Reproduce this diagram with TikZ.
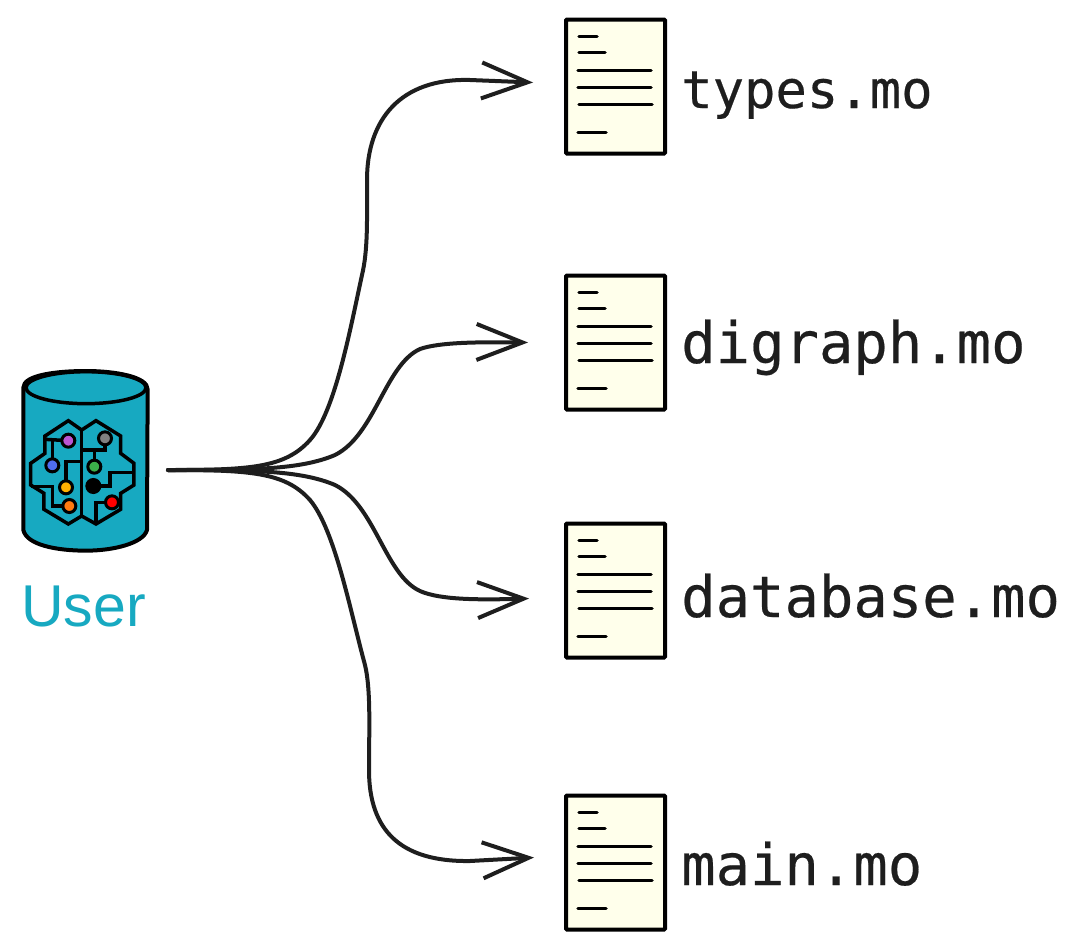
\documentclass[tikz,border=0pt]{standalone}
\usepackage{fontspec}
\setmainfont{Liberation Sans}
\setmonofont[FakeBold=0.35]{DejaVu Sans Mono}
\usetikzlibrary{calc}
\usetikzlibrary{arrows.meta}
\definecolor{userteal}{HTML}{17A9C1}
\definecolor{docfill}{HTML}{FFFFEB}
\definecolor{inkline}{HTML}{1E1E1E}
\tikzset{
  docbox/.style={draw=black,fill=docfill,line width=4pt,minimum width=99pt,minimum height=134pt,anchor=north west,outer sep=0pt,inner sep=0pt,rounded corners=1pt},
  docline/.style={draw=black,line width=3.5pt,line cap=round},
  docname/.style={anchor=base west,inner sep=0pt,text=inkline,font=\ttfamily},
  flow/.style={draw=inkline,line width=4pt,line cap=round,-{Straight Barb[length=46pt,width=36pt,line width=4pt]}},
  brainline/.style={line width=3.5pt,line join=miter,draw=black},
  brainpin/.style={circle,draw=black,line width=3pt,minimum size=13pt,inner sep=0pt},
}
\begin{document}
\begin{tikzpicture}[x=1pt,y=-1pt]
  \useasboundingbox (0,0) rectangle (1081,948);

  % files
  \foreach \name/\top in {types/19.5,digraph/275.5,database/523.5,main/795.5}
  {
    \node(\name) [docbox] at (566,\top) {};
    \foreach \a/\b/\y in {13/31/17, 13/39/33, 12/85/51, 12/85/68, 13/86/85, 12/40/113}
    {
      \path[docline] ($(\name.north west)+(\a,\y)$) -- ($(\name.north west)+(\b,\y)$);
    }
  }
  \node(typesname) [docname,font=\ttfamily\fontsize{52.2}{52}\selectfont] at (681,108) {types.mo};
  \node(digraphname) [docname,font=\ttfamily\fontsize{57.2}{57}\selectfont] at (681,363) {digraph.mo};
  \node(databasename) [docname,font=\ttfamily\fontsize{57.2}{57}\selectfont] at (681,617) {database.mo};
  \node(mainname) [docname,font=\ttfamily\fontsize{57.2}{57}\selectfont] at (681,885) {main.mo};

  % user
  \begin{scope}[shift={(0,350)},scale=1/3]
    \draw[fill=userteal,line width=4pt,line join=round] (70,113) .. controls (70,75) and (170,63) .. (258,63)
      .. controls (345,63) and (443,80) .. (443,118) -- (441,540)
      .. controls (430,580) and (340,602) .. (258,602) .. controls (170,602) and (80,585) .. (70,540) -- cycle;
    \draw[line width=3.5pt] (258,113) ellipse [x radius=180,y radius=48];

    \draw[brainline] (205,212) -- (135,258) -- (135,310) -- (92,340) -- (92,405) -- (132,430) -- (132,478)
      -- (205,522) -- (245,498) -- (288,522) -- (362,478) -- (362,430) -- (402,405) -- (402,340)
      -- (362,310) -- (362,258) -- (288,212) -- (245,240) -- cycle;
    \draw[brainline] (245,240) -- (245,498);
    \draw[brainline] (135,268) -- (205,272);
    \draw[brainline] (158,268) -- (158,345);
    \draw[brainline] (198,412) -- (198,335) -- (245,335);
    \draw[brainline] (92,410) -- (158,410) -- (158,468) -- (208,468);
    \draw[brainline] (315,265) -- (315,300) -- (245,300);
    \draw[brainline] (283,350) -- (283,300);
    \draw[brainline] (280,408) -- (330,408) -- (330,368) -- (402,368);
    \draw[brainline] (335,457) -- (288,457) -- (288,522);
    \foreach \px/\py/\pc in {205/272/BA55D3, 315/265/808080, 157/346/4F6DF0, 283/350/3CB04A, 198/412/FFB000, 208/468/FF7A10, 336/457/FF0000, 280/408/000000}
    {
      \definecolor{pincol}{HTML}{\pc}
      \node(pin\pc) [brainpin,fill=pincol] at (\px,\py) {};
    }
    \coordinate (hub) at (504,360);
  \end{scope}
  \node(user) [anchor=base,inner sep=0pt,text=userteal,font=\fontsize{59}{59}\selectfont] at (83.5,626) {User};

  % connectors
  \coordinate (typesin) at ($(types.west)+(-33,-4)$);
  \coordinate (digraphin) at ($(digraph.west)+(-38,0)$);
  \coordinate (databasein) at ($(database.west)+(-37,8)$);
  \coordinate (mainin) at ($(main.west)+(-32,-5)$);
  \path[flow] (hub) .. controls (250,470) and (285,468) .. (310,440) .. controls (335,412) and (350,330) .. (362,275)
    .. controls (368,250) and (367,220) .. (367,180) .. controls (367,120) and (400,78) .. (470,80) -- (typesin);
  \path[flow] (hub) .. controls (250,470) and (300,470) .. (335,455) .. controls (375,435) and (385,365) .. (420,349)
    .. controls (440,342) and (480,342) .. (digraphin);
  \path[flow] (hub) .. controls (250,470) and (300,470) .. (335,485) .. controls (375,505) and (385,575) .. (420,591)
    .. controls (440,600) and (480,600) .. (databasein);
  \path[flow] (hub) .. controls (250,470) and (285,472) .. (310,500) .. controls (335,530) and (350,610) .. (365,665)
    .. controls (371,690) and (369,730) .. (369,770) .. controls (369,830) and (400,862) .. (470,861) -- (mainin);
\end{tikzpicture}
\end{document}
